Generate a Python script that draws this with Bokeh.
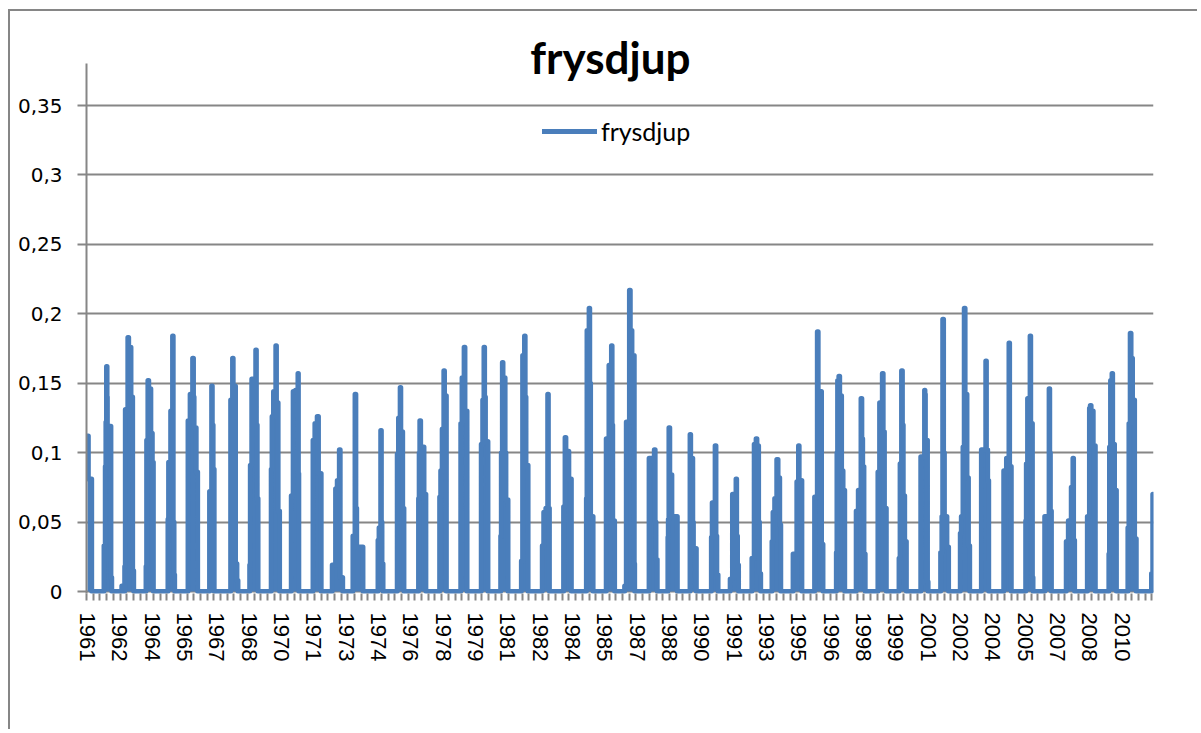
from bokeh.plotting import figure
from bokeh.models import Range1d, FixedTicker, Label, Legend, LegendItem
from bokeh.embed import file_html
from bokeh.resources import INLINE

# ---- data: time (decimal year) and frost depth (m); each value holds until the next time ----
dates = [
    1961.00, 1961.04, 1961.20,
    1961.79, 1961.85, 1961.88, 1961.91, 1961.935, 1961.95, 1962.12, 1962.16,
    1962.64, 1962.68, 1962.78, 1962.81, 1962.93, 1962.97, 1963.08, 1963.16, 1963.21,
    1963.80, 1963.83, 1963.89, 1963.93, 1964.03, 1964.10, 1964.15,
    1964.85, 1964.88, 1964.98, 1965.07, 1965.10, 1965.14, 1965.17,
    1965.81, 1965.91, 1966.03, 1966.07, 1966.10, 1966.20, 1966.27,
    1966.84, 1966.94, 1966.97, 1967.01, 1967.06,
    1967.85, 1967.94, 1967.97, 1968.08, 1968.15, 1968.20,
    1968.76, 1968.79, 1968.86, 1969.05, 1969.08, 1969.12, 1969.16,
    1969.79, 1969.83, 1969.90, 1970.01, 1970.04, 1970.12, 1970.19,
    1970.75, 1970.84, 1970.95, 1971.07, 1971.09, 1971.11,
    1971.79, 1971.88, 1971.99, 1972.05, 1972.18,
    1972.71, 1972.87, 1972.95, 1973.05, 1973.09, 1973.21,
    1973.70, 1973.80, 1973.84, 1973.88, 1974.18,
    1974.90, 1974.95, 1975.03, 1975.06, 1975.09, 1975.14,
    1975.82, 1975.88, 1975.96, 1975.99, 1976.08, 1976.14,
    1976.84, 1976.87, 1976.90, 1976.94, 1977.10, 1977.19,
    1977.85, 1977.90, 1977.97, 1978.05, 1978.08, 1978.17,
    1978.86, 1978.92, 1979.02, 1979.06, 1979.16,
    1979.84, 1979.91, 1979.97, 1980.00, 1980.04, 1980.16,
    1980.77, 1980.80, 1980.85, 1980.88, 1980.98, 1981.02, 1981.12,
    1981.76, 1981.82, 1981.91, 1981.94, 1981.98, 1982.08,
    1982.76, 1982.83, 1982.93, 1983.02, 1983.05, 1983.10,
    1983.78, 1983.85, 1983.89, 1984.03, 1984.15,
    1984.87, 1984.90, 1985.00, 1985.03, 1985.07, 1985.19,
    1985.82, 1985.95, 1986.07, 1986.10, 1986.13, 1986.22,
    1986.70, 1986.78, 1986.93, 1986.97, 1987.05, 1987.16, 1987.18,
    1987.87, 1987.98, 1988.12, 1988.16, 1988.20, 1988.26,
    1988.77, 1988.79, 1988.82, 1988.86, 1988.96, 1989.22,
    1989.83, 1989.86, 1989.96, 1989.99, 1990.13,
    1990.85, 1990.89, 1991.03, 1991.07, 1991.11, 1991.17,
    1991.75, 1991.86, 1992.03, 1992.06, 1992.10, 1992.15,
    1992.79, 1992.90, 1992.99, 1993.03, 1993.11, 1993.15, 1993.21,
    1993.75, 1993.80, 1993.88, 1993.98, 1994.04, 1994.12, 1994.17,
    1994.76, 1994.94, 1995.02, 1995.05, 1995.18,
    1995.79, 1995.92, 1995.96, 1996.12, 1996.19,
    1996.83, 1996.86, 1996.89, 1996.95, 1996.99, 1997.08, 1997.15, 1997.23,
    1997.78, 1997.88, 1998.01, 1998.05, 1998.09, 1998.15, 1998.21,
    1998.82, 1998.90, 1999.03, 1999.07, 1999.13, 1999.22,
    1999.83, 1999.88, 1999.95, 1999.99, 2000.03, 2000.10, 2000.18,
    2000.87, 2001.05, 2001.07, 2001.09, 2001.19, 2001.22,
    2001.82, 2001.88, 2001.92, 2001.96, 2002.00, 2002.12, 2002.20,
    2002.76, 2002.81, 2002.89, 2002.95, 2002.99, 2003.08, 2003.15, 2003.21,
    2003.77, 2003.98, 2004.01, 2004.07, 2004.12,
    2004.84, 2004.97, 2005.09, 2005.12, 2005.20,
    2005.89, 2005.92, 2005.98, 2006.10, 2006.13, 2006.21, 2006.24,
    2006.80, 2007.01, 2007.04, 2007.07, 2007.12,
    2007.83, 2007.93, 2008.07, 2008.15, 2008.18, 2008.23,
    2008.84, 2008.94, 2008.98, 2009.02, 2009.12, 2009.22,
    2009.87, 2009.90, 2009.95, 2010.02, 2010.05, 2010.14, 2010.23,
    2010.78, 2010.83, 2010.89, 2010.93, 2011.00, 2011.10, 2011.18,
    2011.91, 2011.97, 2011.99,
]
frysdjup = [
    0.112, 0.081, 0.0,
    0.033, 0.090, 0.122, 0.162, 0.140, 0.119, 0.010, 0.0,
    0.004, 0.0, 0.018, 0.131, 0.183, 0.176, 0.140, 0.015, 0.0,
    0.018, 0.109, 0.152, 0.146, 0.114, 0.093, 0.0,
    0.052, 0.093, 0.130, 0.184, 0.050, 0.012, 0.0,
    0.123, 0.142, 0.168, 0.140, 0.118, 0.086, 0.0,
    0.072, 0.148, 0.120, 0.088, 0.0,
    0.138, 0.168, 0.148, 0.020, 0.008, 0.0,
    0.019, 0.091, 0.153, 0.174, 0.120, 0.067, 0.0,
    0.088, 0.126, 0.144, 0.177, 0.136, 0.058, 0.0,
    0.069, 0.144, 0.145, 0.157, 0.085, 0.0,
    0.109, 0.121, 0.126, 0.085, 0.0,
    0.019, 0.074, 0.080, 0.102, 0.010, 0.0,
    0.040, 0.142, 0.060, 0.032, 0.0,
    0.037, 0.046, 0.116, 0.050, 0.020, 0.0,
    0.099, 0.125, 0.147, 0.115, 0.060, 0.0,
    0.067, 0.100, 0.123, 0.104, 0.070, 0.0,
    0.068, 0.087, 0.117, 0.159, 0.141, 0.0,
    0.121, 0.154, 0.176, 0.130, 0.0,
    0.106, 0.138, 0.176, 0.140, 0.108, 0.0,
    0.040, 0.100, 0.165, 0.154, 0.100, 0.066, 0.0,
    0.022, 0.170, 0.184, 0.140, 0.091, 0.0,
    0.033, 0.057, 0.060, 0.142, 0.060, 0.0,
    0.061, 0.111, 0.101, 0.081, 0.0,
    0.067, 0.188, 0.204, 0.150, 0.054, 0.0,
    0.110, 0.163, 0.177, 0.120, 0.051, 0.0,
    0.004, 0.122, 0.217, 0.188, 0.170, 0.020, 0.0,
    0.096, 0.094, 0.102, 0.050, 0.023, 0.0,
    0.039, 0.052, 0.118, 0.084, 0.054, 0.0,
    0.113, 0.096, 0.050, 0.031, 0.0,
    0.039, 0.064, 0.105, 0.040, 0.012, 0.0,
    0.009, 0.070, 0.081, 0.040, 0.019, 0.0,
    0.024, 0.106, 0.110, 0.105, 0.050, 0.013, 0.0,
    0.036, 0.057, 0.067, 0.095, 0.082, 0.048, 0.0,
    0.027, 0.079, 0.105, 0.080, 0.0,
    0.068, 0.187, 0.144, 0.034, 0.0,
    0.028, 0.100, 0.152, 0.155, 0.141, 0.087, 0.073, 0.0,
    0.058, 0.073, 0.139, 0.110, 0.090, 0.027, 0.0,
    0.086, 0.136, 0.157, 0.115, 0.060, 0.0,
    0.024, 0.092, 0.159, 0.120, 0.069, 0.036, 0.0,
    0.097, 0.145, 0.142, 0.109, 0.007, 0.0,
    0.028, 0.054, 0.196, 0.100, 0.054, 0.032, 0.0,
    0.042, 0.054, 0.104, 0.204, 0.142, 0.082, 0.033, 0.0,
    0.102, 0.166, 0.102, 0.080, 0.0,
    0.087, 0.096, 0.179, 0.090, 0.0,
    0.051, 0.092, 0.139, 0.184, 0.121, 0.010, 0.0,
    0.054, 0.146, 0.100, 0.058, 0.0,
    0.036, 0.051, 0.075, 0.096, 0.037, 0.0,
    0.054, 0.132, 0.134, 0.130, 0.105, 0.0,
    0.027, 0.104, 0.152, 0.157, 0.106, 0.073, 0.0,
    0.046, 0.121, 0.186, 0.168, 0.138, 0.038, 0.0,
    0.013, 0.070, 0.070,
]

x_labels = ["1961", "1962", "1964", "1965", "1967", "1968", "1970", "1971",
            "1973", "1974", "1976", "1978", "1979", "1981", "1982", "1984",
            "1985", "1987", "1988", "1990", "1991", "1993", "1995", "1996",
            "1998", "1999", "2001", "2002", "2004", "2005", "2007", "2008",
            "2010"]
y_ticks = [0, 0.05, 0.1, 0.15, 0.2, 0.25, 0.3, 0.35]
y_labels = ["0", "0,05", "0,1", "0,15", "0,2", "0,25", "0,3", "0,35"]

# ---- layout / style ----
LINE = "#4A7EBB"
GRAY = "#868686"
label_step = 1.547      # category-label interval (years)
minor_step = 0.3206     # tick-mark interval (years)
x_lo, x_hi = 1960.952, 2012.005
y_lo, y_hi = -0.00144, 0.417

x_tick_pos = [round(1961 + i * label_step, 3) for i in range(len(x_labels))]
minor_pos = [round(x_lo + k * minor_step, 4) for k in range(int((x_hi - x_lo) / minor_step) + 1)]

p = figure(width=1189, height=720,
           x_range=Range1d(x_lo, x_hi), y_range=Range1d(y_lo, y_hi),
           output_backend="svg", toolbar_location=None,
           min_border_left=76, min_border_right=46,
           min_border_top=1, min_border_bottom=138)
p.styles = {"margin-left": "8px", "margin-top": "9px",
            "border-left": f"2px solid {GRAY}", "border-top": f"2px solid {GRAY}"}
p.outline_line_color = None
p.background_fill_color = "white"
p.border_fill_color = "white"

p.varea_step(x=dates, y1=0, y2=frysdjup, step_mode="after",
             fill_color=LINE, fill_alpha=1.0)
r = p.step(dates, frysdjup, mode="after", line_color=LINE, line_width=5,
           line_join="round", line_cap="round")

# y axis
p.yaxis.ticker = FixedTicker(ticks=y_ticks)
p.yaxis.major_label_overrides = dict(zip(y_ticks, y_labels))
p.yaxis.bounds = (y_lo, 0.38)
p.yaxis.axis_line_color = GRAY
p.yaxis.axis_line_width = 2
p.yaxis.major_tick_line_color = GRAY
p.yaxis.major_tick_line_width = 2
p.yaxis.major_tick_out = 9
p.yaxis.major_tick_in = 0
p.yaxis.minor_tick_line_color = None
p.yaxis.major_label_standoff = 15
p.yaxis.major_label_text_font = "DejaVu Sans"
p.yaxis.major_label_text_font_size = "20px"
p.yaxis.major_label_text_color = "black"

p.ygrid.ticker = FixedTicker(ticks=y_ticks)
p.ygrid.grid_line_color = GRAY
p.ygrid.grid_line_width = 2
p.xgrid.visible = False

# x axis
p.xaxis.ticker = FixedTicker(ticks=x_tick_pos, minor_ticks=minor_pos)
p.xaxis.major_label_overrides = dict(zip(x_tick_pos, x_labels))
p.xaxis.axis_line_color = None
p.xaxis.major_tick_line_color = None
p.xaxis.major_tick_out = 7
p.xaxis.major_tick_in = 0
p.xaxis.minor_tick_line_color = GRAY
p.xaxis.minor_tick_line_width = 2
p.xaxis.minor_tick_out = 7
p.xaxis.minor_tick_in = 0
p.xaxis.major_label_orientation = "vertical"
p.xaxis.major_label_standoff = 12
p.xaxis.major_label_text_font = "Liberation Sans"
p.xaxis.major_label_text_font_size = "22px"
p.xaxis.major_label_text_color = "black"

# title
p.add_layout(Label(x=1986.02, y=0.385, text="frysdjup", text_align="center",
                   text_baseline="alphabetic", text_font="Lato",
                   text_font_style="bold", text_font_size="44px",
                   text_color="black"))

# legend
legend = Legend(items=[LegendItem(label="frysdjup", renderers=[r])],
                location=(456, 447), orientation="horizontal",
                glyph_width=55, glyph_height=24, label_height=24,
                label_standoff=4, padding=0, margin=0, spacing=0,
                border_line_color=None, background_fill_alpha=0,
                label_text_font="Lato", label_text_font_size="25px",
                label_text_color="black")
p.add_layout(legend)

open("out.html", "w").write(file_html(p, INLINE))
